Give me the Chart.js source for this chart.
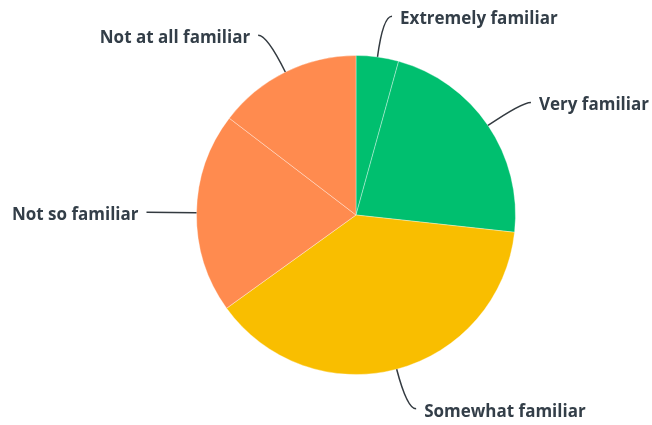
<!DOCTYPE html>
<html>
<head>
<meta charset="utf-8">
<script src="https://cdn.jsdelivr.net/npm/chart.js@4"></script>
<style>
  html, body { margin: 0; padding: 0; background: #fff; }
  #wrap { width: 652px; height: 425px; }
</style>
</head>
<body>
<div id="wrap"><canvas id="pieChart" width="652" height="425"></canvas></div>
<script>
// Dados do gráfico (percentuais, sentido horário a partir do topo)
const categories = ['Extremely familiar', 'Very familiar', 'Somewhat familiar', 'Not so familiar', 'Not at all familiar'];
const shares = [4.3, 22.4, 38.3, 20.3, 14.6];
const sliceColors = ['#00bf6f', '#00bf6f', '#f9be00', '#ff8b4f', '#ff8b4f'];

// Rótulos externos com linha curva
const leaderLabels = {
    id: 'leaderLabels',
    afterDatasetsDraw(chart) {
        const ctx = chart.ctx;
        const meta = chart.getDatasetMeta(0);
        ctx.save();
        meta.data.forEach((arc, i) => {
            const p = arc.getProps(['x', 'y', 'startAngle', 'endAngle', 'outerRadius'], true);
            const mid = (p.startAngle + p.endAngle) / 2;
            const cos = Math.cos(mid), sin = Math.sin(mid);
            const r0 = p.outerRadius;
            const r1 = r0 + 41;
            const x0 = p.x + cos * r0, y0 = p.y + sin * r0;
            const x1 = p.x + cos * r1, y1 = p.y + sin * r1;
            const right = x1 >= p.x;
            const x2 = x1 + (right ? 9 : -9);

            ctx.strokeStyle = '#333a40';
            ctx.lineWidth = 1.5;
            ctx.beginPath();
            ctx.moveTo(x0, y0);
            ctx.quadraticCurveTo(x1, y1, x2, y1);
            ctx.stroke();

            ctx.fillStyle = '#333e48';
            ctx.font = 'bold 17px "Open Sans", sans-serif';
            ctx.textBaseline = 'middle';
            ctx.textAlign = right ? 'left' : 'right';
            ctx.fillText(categories[i], x2 + (right ? 8 : -8), y1 + 3);
        });
        ctx.restore();
    }
};

new Chart(document.getElementById('pieChart').getContext('2d'), {
    type: 'pie',
    data: {
        labels: categories,
        datasets: [{
            data: shares,
            backgroundColor: sliceColors,
            borderColor: 'rgba(255, 255, 255, 0.35)',
            borderWidth: 1,
            hoverOffset: 0
        }]
    },
    options: {
        responsive: false,
        animation: false,
        layout: {
            padding: { top: 55, bottom: 50, left: 196, right: 136 }
        },
        plugins: {
            legend: { display: false },
            tooltip: { enabled: false }
        }
    },
    plugins: [leaderLabels]
});
</script>
</body>
</html>
